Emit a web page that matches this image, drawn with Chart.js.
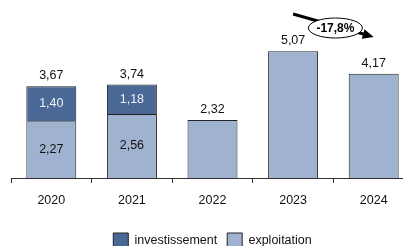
<!DOCTYPE html>
<html>
<head>
<meta charset="utf-8">
<script src="https://cdn.jsdelivr.net/npm/chart.js@4"></script>
<style>
  body { margin: 0; overflow: hidden; background: #fff; }
  #wrap { width: 426px; height: 259px; position: relative; }
</style>
</head>
<body>
<div id="wrap"><canvas id="chart"></canvas></div>
<script>
const annees = ['2020', '2021', '2022', '2023', '2024'];
const exploitation = [2.27, 2.56, 2.32, 5.07, 4.17];
const investissement = [1.40, 1.18, null, null, null];
const variation = '-17,8%';

const police = "'Liberation Sans Narrow', 'Arial Narrow', 'Liberation Sans', Arial, sans-serif";
const fmt = v => v.toFixed(2).replace('.', ',');

const etiquettes = {
  id: 'etiquettes',
  afterDatasetsDraw(chart) {
    const ctx = chart.ctx;
    const metaE = chart.getDatasetMeta(0);
    const metaI = chart.getDatasetMeta(1);
    ctx.save();
    ctx.font = '12.5px ' + police;
    ctx.textAlign = 'center';
    annees.forEach((a, i) => {
      const barE = metaE.data[i];
      const total = exploitation[i] + (investissement[i] || 0);
      const top = investissement[i] ? metaI.data[i].y : barE.y;
      ctx.fillStyle = '#111';
      ctx.textBaseline = 'alphabetic';
      ctx.fillText(fmt(total), barE.x, top - 7);
      if (investissement[i]) {
        const bI = metaI.data[i];
        ctx.textBaseline = 'middle';
        ctx.fillStyle = '#111';
        ctx.fillText(fmt(exploitation[i]), barE.x, (barE.y + barE.base) / 2);
        ctx.fillStyle = '#eef2f8';
        ctx.fillText(fmt(investissement[i]), bI.x, (bI.y + bI.base) / 2);
      }
    });

    // fleche de variation entre 2023 et 2024
    const x1 = metaE.data[3].x, x2 = metaE.data[4].x;
    const top = chart.chartArea.top;
    const y1 = top - 14, y2 = top + 9;
    const ang = Math.atan2(y2 - y1, x2 - x1);
    ctx.strokeStyle = '#000';
    ctx.fillStyle = '#000';
    ctx.lineWidth = 3;
    ctx.beginPath();
    ctx.moveTo(x1, y1);
    ctx.lineTo(x2 - 8 * Math.cos(ang), y2 - 8 * Math.sin(ang));
    ctx.stroke();
    ctx.beginPath();
    ctx.moveTo(x2, y2);
    ctx.lineTo(x2 - 11 * Math.cos(ang) + 5 * Math.sin(ang), y2 - 11 * Math.sin(ang) - 5 * Math.cos(ang));
    ctx.lineTo(x2 - 11 * Math.cos(ang) - 5 * Math.sin(ang), y2 - 11 * Math.sin(ang) + 5 * Math.cos(ang));
    ctx.closePath();
    ctx.fill();

    const cx = (x1 + x2) / 2 + 2, cy = top;
    ctx.beginPath();
    ctx.ellipse(cx, cy, 27, 10, 0, 0, Math.PI * 2);
    ctx.fillStyle = '#fff';
    ctx.fill();
    ctx.lineWidth = 1;
    ctx.stroke();
    ctx.fillStyle = '#000';
    ctx.font = 'bold 12px ' + police;
    ctx.textBaseline = 'middle';
    ctx.fillText(variation, cx, cy + 1);
    ctx.restore();
  }
};

new Chart(document.getElementById('chart'), {
  type: 'bar',
  data: {
    labels: annees,
    datasets: [{
      label: 'exploitation',
      data: exploitation,
      backgroundColor: '#9fb2d0',
      borderColor: '#222',
      borderWidth: 1,
      borderSkipped: 'bottom',
      categoryPercentage: 1,
      barPercentage: 0.62
    }, {
      label: 'investissement',
      data: investissement,
      backgroundColor: '#4a6896',
      borderColor: '#222',
      borderWidth: 1,
      borderSkipped: 'bottom',
      categoryPercentage: 1,
      barPercentage: 0.62
    }]
  },
  options: {
    responsive: true,
    maintainAspectRatio: false,
    animation: false,
    layout: { padding: { left: 11, right: 12, top: 28, bottom: 0 } },
    plugins: {
      tooltip: { enabled: false },
      legend: {
        position: 'bottom',
        labels: {
          sort: (a, b) => b.datasetIndex - a.datasetIndex,
          boxWidth: 15,
          boxHeight: 16,
          padding: 10,
          color: '#111',
          font: { family: police, size: 12.5 }
        }
      }
    },
    scales: {
      x: {
        stacked: true,
        border: { display: true, color: '#333', width: 1 },
        grid: { display: true, drawOnChartArea: false, tickLength: 5, color: '#333', offset: true },
        ticks: { color: '#111', padding: 10, font: { family: police, size: 12.5 } },
        afterFit: scale => { scale.height += 5; }
      },
      y: {
        stacked: true,
        display: false,
        min: 0,
        max: 6
      }
    }
  },
  plugins: [etiquettes]
});
</script>
</body>
</html>
